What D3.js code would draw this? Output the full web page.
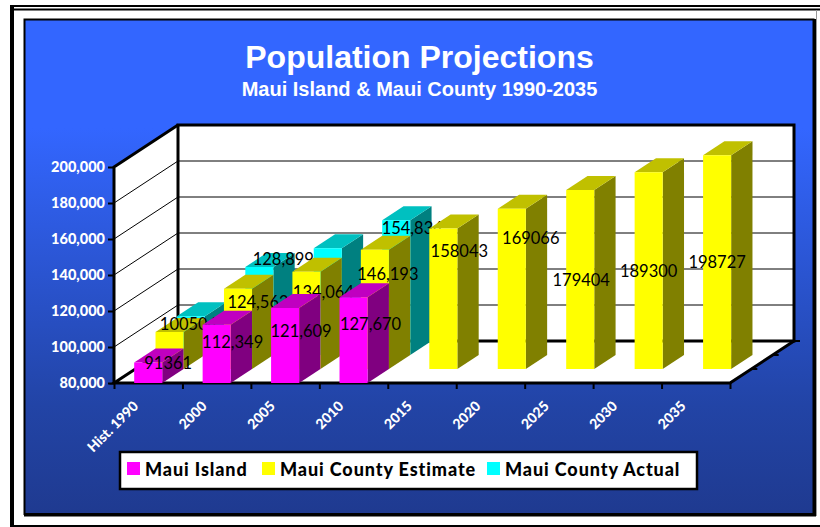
<!DOCTYPE html>
<html>
<head>
<meta charset="utf-8">
<style>
html,body{margin:0;padding:0;background:#fff;}
svg{display:block;}
</style>
<script src="https://cdn.jsdelivr.net/npm/d3@7/dist/d3.min.js"></script>
</head>
<body>
<svg id="chart" width="820" height="527"></svg>
<script>
// Category and series values
const categories = ["Hist. 1990", "2000", "2005", "2010", "2015", "2020", "2025", "2030", "2035"];
const mauiIsland = [91361, 112349, 121609, 127670, null, null, null, null, null];
const countyEstimate = [100504, 124562, 134064, 146193, 158043, 169066, 179404, 189300, 198727];
const countyActual = [101500, 128899, 139300, 154834, null, null, null, null, null];
const yTickValues = [80000, 100000, 120000, 140000, 160000, 180000, 200000];

// Printed value labels, as they read on the chart
const mauiIslandLabels = ["91361", "112,349", "121,609", "127,670", null, null, null, null, null];
const countyEstimateLabels = ["100504", "124,562", "134,064", "146,193", "158043", "169066", "179404", "189300", "198727"];
const countyActualLabels = [null, "128,899", null, "154,834", null, null, null, null, null];

// Hand-placed label nudges from the bar's front-face top centre
const mauiIslandNudge = [[20, 1], [16, 17], [16, 23], [17, 27]];
const countyEstimateNudge = [[19, -8], [20, 13], [17, 20], [13, 24], [16, 23], [19, 29], [1, 90], [0, 99], [0, 107]];
const countyActualNudge = [null, [24, -8], null, [16, 8]];

const svg = d3.select("#chart");
const FONT = "Lato, 'Open Sans', sans-serif";
const plot = { left: 114, right: 730, bottom: 383, top: 167, depthX: 64, depthY: 42 };

const x = d3.scaleBand().domain(categories).range([plot.left, plot.right]).paddingInner(0.59).paddingOuter(0.295);
const edge = d3.scaleLinear().domain([0, categories.length]).range([plot.left, plot.right]);
const y = d3.scaleLinear().domain([80000, 200000]).range([plot.bottom, plot.top]);
const zx = d3.scaleLinear().domain([0, 3]).range([0, plot.depthX]);
const zy = d3.scaleLinear().domain([0, 3]).range([0, plot.depthY]);

const pt = (px, value, z) => [px + zx(z), y(value) - zy(z)];
const poly = pts => pts.map(p => p.join(",")).join(" ");

// Page frame and panel
const defs = svg.append("defs");
const grad = defs.append("linearGradient").attr("id", "panelFill").attr("x1", 0).attr("y1", 0).attr("x2", 0).attr("y2", 1);
grad.append("stop").attr("offset", "0%").attr("stop-color", "#3366ff");
grad.append("stop").attr("offset", "22%").attr("stop-color", "#3366ff");
grad.append("stop").attr("offset", "78%").attr("stop-color", "#2244a6");
grad.append("stop").attr("offset", "100%").attr("stop-color", "#1f3a90");

const frame = svg.append("g").attr("stroke", "#000").attr("fill", "none");
frame.append("line").attr("x1", 10).attr("x2", 820).attr("y1", 6).attr("y2", 6).attr("stroke-width", 2);
frame.append("line").attr("x1", 10).attr("x2", 820).attr("y1", 9.5).attr("y2", 9.5).attr("stroke-width", 2);
frame.append("line").attr("x1", 12).attr("x2", 12).attr("y1", 5).attr("y2", 527).attr("stroke-width", 4);
frame.append("line").attr("x1", 10).attr("x2", 820).attr("y1", 526).attr("y2", 526).attr("stroke-width", 2);
frame.append("line").attr("x1", 816.5).attr("x2", 816.5).attr("y1", 10).attr("y2", 516).attr("stroke", "#999").attr("stroke-width", 1);

svg.append("rect").attr("x", 24.5).attr("y", 19.5).attr("width", 789).attr("height", 494.5)
  .attr("fill", "url(#panelFill)").attr("stroke", "#000").attr("stroke-width", 2);
svg.append("path").attr("d", "M814.5,19V515H24").attr("fill", "none").attr("stroke", "#000").attr("stroke-width", 3);

// Titles
svg.append("text").attr("x", 419.5).attr("y", 68).attr("text-anchor", "middle").attr("fill", "#fff")
  .attr("font-family", "'Liberation Sans', Arial, sans-serif").attr("font-weight", 700).attr("font-size", 32)
  .text("Population Projections");
svg.append("text").attr("x", 419.5).attr("y", 95.5).attr("text-anchor", "middle").attr("fill", "#fff")
  .attr("font-family", "'Liberation Sans', Arial, sans-serif").attr("font-weight", 700).attr("font-size", 20)
  .text("Maui Island & Maui County 1990-2035");

// Side wall, back wall and floor
const [minV, maxV] = y.domain();
const walls = svg.append("g");
walls.append("polygon").attr("fill", "#fff")
  .attr("points", poly([pt(plot.left, maxV, 0), pt(plot.left, maxV, 3), pt(plot.left, minV, 3), pt(plot.left, minV, 0)]));
walls.append("polygon").attr("fill", "#fff")
  .attr("points", poly([pt(plot.left, maxV, 3), pt(plot.right, maxV, 3), pt(plot.right, minV, 3), pt(plot.left, minV, 3)]));
walls.append("polygon").attr("fill", "#fff")
  .attr("points", poly([pt(plot.left, minV, 0), pt(plot.left, minV, 3), pt(plot.right, minV, 3), pt(plot.right, minV, 0)]));

yTickValues.slice(1, -1).forEach(v => {
  const a = pt(plot.left, v, 0), b = pt(plot.left, v, 3), c = pt(plot.right, v, 3);
  walls.append("polyline").attr("points", poly([a, b, c])).attr("fill", "none").attr("stroke", "#000").attr("stroke-width", 1);
});

// Heavy outlines of the chart box
const outline = svg.append("g").attr("fill", "none").attr("stroke", "#000").attr("stroke-width", 3);
outline.append("polygon")
  .attr("points", poly([pt(plot.left, maxV, 3), pt(plot.right, maxV, 3), pt(plot.right, minV, 3), pt(plot.left, minV, 3)]));
outline.append("polyline")
  .attr("points", poly([pt(plot.left, minV, 0), pt(plot.left, maxV, 0), pt(plot.left, maxV, 3)]));
outline.append("polyline")
  .attr("points", poly([pt(plot.left, minV, 3), pt(plot.left, minV, 0), pt(plot.right, minV, 0), pt(plot.right, minV, 3)]));

// Extruded bars, painted back to front inside each category, left to right across categories
const seriesList = [
  { values: countyActual, labels: countyActualLabels, nudge: countyActualNudge, z: 2, front: "#00ffff", top: "#00c0c0", side: "#008080" },
  { values: countyEstimate, labels: countyEstimateLabels, nudge: countyEstimateNudge, z: 1, front: "#ffff00", top: "#c0c000", side: "#808000" },
  { values: mauiIsland, labels: mauiIslandLabels, nudge: mauiIslandNudge, z: 0, front: "#ff00ff", top: "#c000c0", side: "#800080" }
];
const bars = svg.append("g");
categories.forEach((cat, i) => {
  seriesList.forEach(s => {
    const v = s.values[i];
    if (v == null) return;
    const l = x(cat), r = l + x.bandwidth(), z = s.z;
    const g = bars.append("g");
    g.append("polygon").attr("fill", s.side).attr("points", poly([pt(r, v, z), pt(r, v, z + 1), pt(r, minV, z + 1), pt(r, minV, z)]));
    g.append("polygon").attr("fill", s.top).attr("points", poly([pt(l, v, z), pt(l, v, z + 1), pt(r, v, z + 1), pt(r, v, z)]));
    g.append("polygon").attr("fill", s.front).attr("points", poly([pt(l, v, z), pt(r, v, z), pt(r, minV, z), pt(l, minV, z)]));
    if (s.labels[i]) {
      const [cx, cy] = pt((l + r) / 2, v, z);
      const [nx, ny] = s.nudge[i];
      g.append("text").attr("x", cx + nx).attr("y", cy + ny).attr("dy", "0.36em").attr("text-anchor", "middle")
        .attr("font-family", FONT).attr("font-size", 16.5).attr("fill", "#000").text(s.labels[i]);
    }
  });
});

// Value axis
const yAxis = svg.append("g").attr("transform", `translate(${plot.left},0)`)
  .call(d3.axisLeft(y).tickValues(yTickValues).tickSize(6).tickPadding(3).tickFormat(d3.format(",")));
yAxis.select(".domain").remove();
yAxis.selectAll("line").attr("stroke", "#000").attr("stroke-width", 2);
yAxis.selectAll("text").attr("fill", "#fff").attr("font-family", FONT).attr("font-weight", 900).attr("font-size", 14.5);

// Category tick marks at the band edges
const xTicks = svg.append("g").attr("transform", `translate(0,${plot.bottom})`)
  .call(d3.axisBottom(edge).ticks(categories.length).tickSize(6).tickFormat(""));
xTicks.select(".domain").remove();
xTicks.selectAll("line").attr("stroke", "#000").attr("stroke-width", 2);

// Rotated category labels
svg.append("g").selectAll("text").data(categories).join("text")
  .attr("transform", d => `translate(${x(d) + x.bandwidth() / 2 - 9},${plot.bottom + 24}) rotate(-45)`)
  .attr("text-anchor", "end").attr("fill", "#fff").attr("font-family", FONT).attr("font-weight", 900).attr("font-size", 14)
  .text(d => d);

// Depth ticks along the right floor edge
const depthTicks = svg.append("g").attr("stroke", "#000").attr("stroke-width", 2);
[1, 2, 3].forEach(z => {
  const p = pt(plot.right, minV, z);
  depthTicks.append("line").attr("x1", p[0]).attr("y1", p[1]).attr("x2", p[0] + 6).attr("y2", p[1]);
});

// Legend
const legendNames = ["Maui Island", "Maui County Estimate", "Maui County Actual"];
const legendColors = ["#ff00ff", "#ffff00", "#00ffff"];
const legendSwatchX = [127, 262, 487];
const legend = svg.append("g");
legend.append("rect").attr("x", 120).attr("y", 452).attr("width", 577).attr("height", 37)
  .attr("fill", "#fff").attr("stroke", "#000").attr("stroke-width", 2.5);
legendNames.forEach((name, i) => {
  legend.append("rect").attr("x", legendSwatchX[i]).attr("y", 462).attr("width", 13).attr("height", 13).attr("fill", legendColors[i]);
  legend.append("text").attr("x", legendSwatchX[i] + 18).attr("y", 476).attr("fill", "#000")
    .attr("font-family", FONT).attr("font-weight", 900).attr("font-size", 18).attr("letter-spacing", 0.9).text(name);
});
</script>
</body>
</html>
